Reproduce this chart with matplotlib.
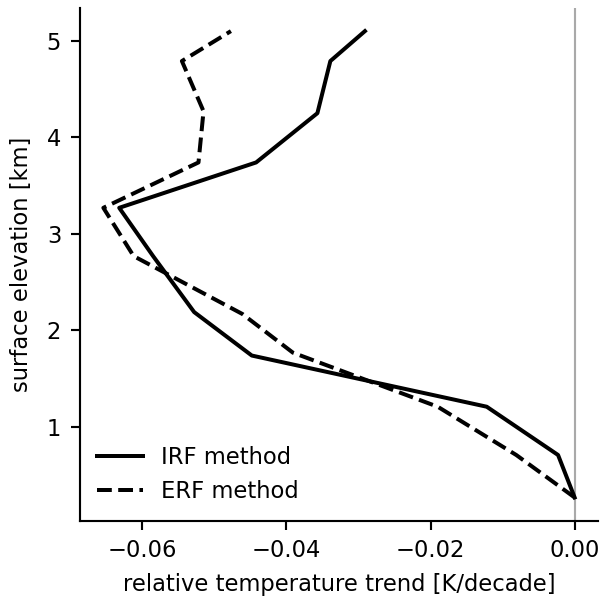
import matplotlib
matplotlib.use("Agg")
import matplotlib.pyplot as plt
from matplotlib.ticker import MultipleLocator

# surface elevation levels [km]
elev_irf = [0.27, 0.71, 1.21, 1.74, 2.19, 2.77, 3.27, 3.74, 4.25, 4.79, 5.10]
elev_erf = [0.27, 0.71, 1.21, 1.77, 2.17, 2.77, 3.27, 3.74, 4.27, 4.79, 5.10]

# relative temperature trend [K/decade]
trend_irf = [0.0, -0.0023, -0.0122, -0.0448, -0.0528, -0.0585, -0.0632, -0.0442, -0.0357, -0.0339, -0.0291]
trend_erf = [0.0, -0.0081, -0.0190, -0.0391, -0.0461, -0.0612, -0.0654, -0.0522, -0.0515, -0.0545, -0.0477]

plt.rcParams['font.size'] = 8.5

fig = plt.figure(figsize=(3.125, 3.125), dpi=192)
ax = fig.add_axes([0.133, 0.132, 0.864, 0.855])

ax.axvline(0, color='darkgray', lw=0.8, zorder=0)
ax.plot(trend_irf, elev_irf, color='k', lw=1.5, label='IRF method')
ax.plot(trend_erf, elev_erf, color='k', lw=1.5, ls='--', label='ERF method')

ax.xaxis.set_major_locator(MultipleLocator(0.02))
ax.spines['top'].set_visible(False)
ax.spines['right'].set_visible(False)
ax.set_xlabel('relative temperature trend [K/decade]')
ax.set_ylabel('surface elevation [km]', labelpad=5)
ax.legend(loc='lower left', frameon=False, borderaxespad=0.37)

fig.savefig('out.png', dpi=192)
